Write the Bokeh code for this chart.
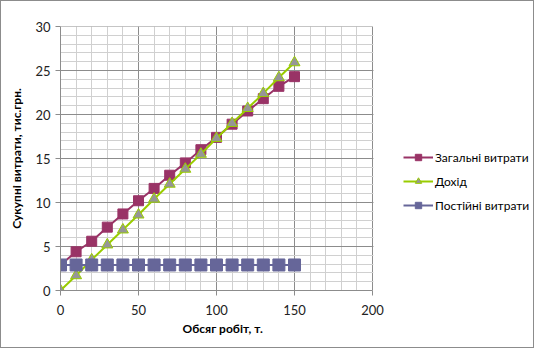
from bokeh.plotting import figure
from bokeh.models import (SingleIntervalTicker, Legend, LegendItem, Range1d,
                          BoxAnnotation, Title)
from bokeh.embed import file_html
from bokeh.resources import INLINE

volume = [0, 10, 20, 30, 40, 50, 60, 70, 80, 90, 100, 110, 120, 130, 140, 150]
total_costs = [2.9, 4.4, 5.6, 7.2, 8.7, 10.2, 11.6, 13.1, 14.5, 16.0, 17.4, 18.9, 20.4, 21.8, 23.2, 24.3]
revenue = [0.0, 1.7, 3.5, 5.2, 6.9, 8.6, 10.4, 12.1, 13.8, 15.5, 17.3, 19.0, 20.7, 22.4, 24.2, 25.9]
fixed_costs = [2.9] * 16

names = ["Загальні витрати", "Дохід", "Постійні витрати"]
x_title = "Обсяг робіт, т."
y_title = "Сукупні витрати, тис.грн."
x_min, x_max, x_step = 0, 200, 50
y_min, y_max, y_step = 0, 30, 5

FONT = "Lato"
W, H = 534, 348
LEFT, RIGHT, TOP, BOTTOM = 59, 1, 25, 59
DATA_W = 312  # pixel width of the 0..200 plot area
frame_w = W - LEFT - RIGHT
x_end = x_min + (x_max - x_min) * frame_w / DATA_W

p = figure(width=W, height=H, output_backend="svg", toolbar_location=None,
           x_range=Range1d(x_min, x_end), y_range=Range1d(y_min, y_max),
           min_border_left=LEFT, min_border_right=RIGHT, min_border_top=TOP, min_border_bottom=BOTTOM)
p.styles = {"border": "1px solid #8c8c8c"}
p.outline_line_color = None
p.background_fill_color = "white"

p.xaxis.ticker = SingleIntervalTicker(interval=x_step, num_minor_ticks=5)
p.yaxis.ticker = SingleIntervalTicker(interval=y_step, num_minor_ticks=5)
p.xaxis.bounds = (x_min, x_max)
p.xgrid.bounds = (x_min, x_max)
for g in (p.xgrid, p.ygrid):
    g.grid_line_color = "#8c8c8c"
    g.minor_grid_line_color = "#d0d0d0"

for ax in (p.xaxis, p.yaxis):
    ax.axis_line_color = "#8c8c8c"
    ax.major_tick_line_color = "#8c8c8c"
    ax.minor_tick_line_color = None
    ax.major_tick_in = 0
    ax.major_tick_out = 5
    ax.major_label_text_font = FONT
    ax.major_label_text_font_size = "13px"
    ax.major_label_text_color = "#222222"
    ax.axis_label_text_font = FONT
    ax.axis_label_text_font_size = "12px"
    ax.axis_label_text_font_style = "bold"
    ax.axis_label_text_color = "#000000"

p.yaxis.axis_label = y_title
p.xaxis.major_label_standoff = 9
p.yaxis.major_label_standoff = 5
p.yaxis.axis_label_standoff = 8

# white cover for the grid to the right of the plot area (legend zone)
p.add_layout(BoxAnnotation(left=x_max + 0.6, fill_color="white", fill_alpha=1.0,
                           line_color=None, level="glyph"))
# top edge of plot area
p.segment(x0=[x_min], y0=[y_max], x1=[x_max], y1=[y_max], line_color="#8c8c8c", line_width=1)

xt = Title(text=x_title, align="left", offset=122, text_font=FONT, text_font_size="12px",
           text_font_style="bold", text_color="#000000", standoff=2)
p.add_layout(xt, "below")

maroon = "#993366"
lime = "#99cc00"
slate = "#666699"

l1 = p.line(volume, total_costs, line_color=maroon, line_width=2)
m1 = p.scatter(volume, total_costs, marker="square", size=10, fill_color=maroon, line_color=maroon)
l2 = p.line(volume, revenue, line_color=lime, line_width=2)
m2 = p.scatter(volume, revenue, marker="triangle", size=11, fill_color="#969696", line_color=lime, line_width=1)
l3 = p.line(volume, fixed_costs, line_color=slate, line_width=2)
m3 = p.scatter(volume, fixed_costs, marker="square", size=12, fill_color=slate, line_color=slate)

legend = Legend(items=[LegendItem(label=names[0], renderers=[l1, m1]),
                       LegendItem(label=names[1], renderers=[l2, m2]),
                       LegendItem(label=names[2], renderers=[l3, m3])],
                location=(343, 77), border_line_color=None, background_fill_alpha=0,
                label_text_font=FONT, label_text_font_size="12px", label_text_color="#000000",
                glyph_width=30, glyph_height=16, spacing=8, padding=0, margin=0, label_standoff=2)
p.add_layout(legend)

open("out.html", "w").write(file_html(p, INLINE))
